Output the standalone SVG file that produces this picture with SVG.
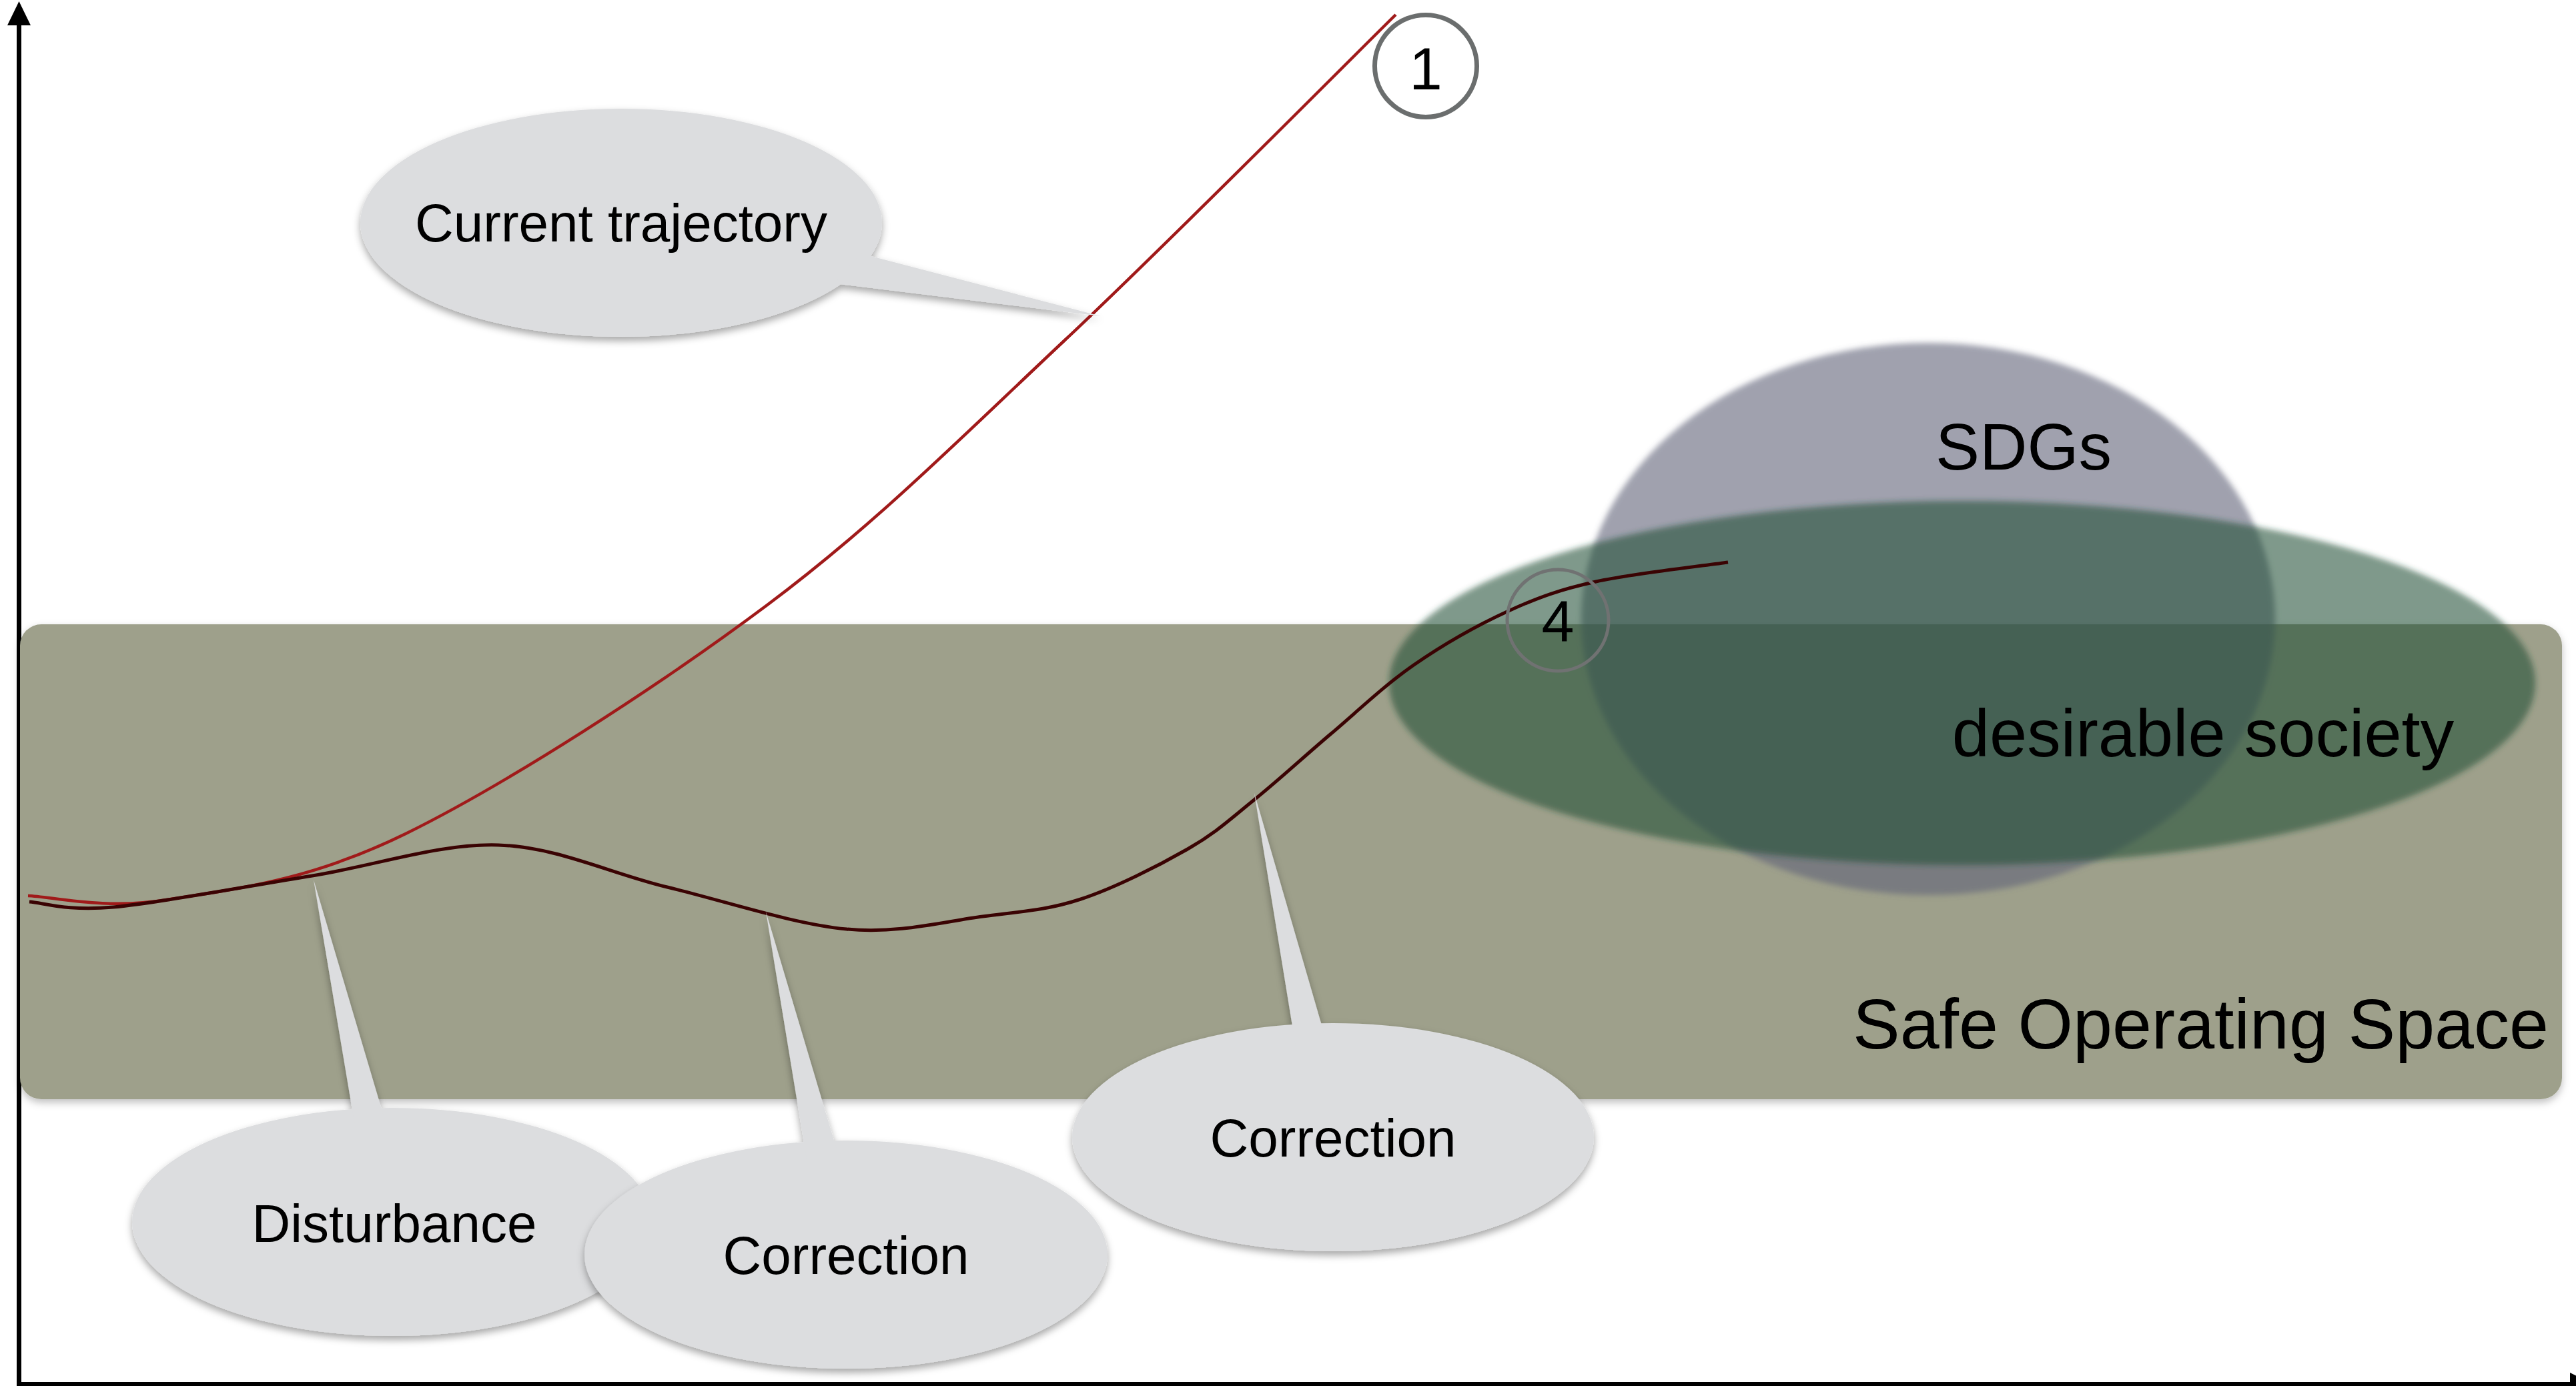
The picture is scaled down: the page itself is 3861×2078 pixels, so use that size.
<svg xmlns="http://www.w3.org/2000/svg" width="3861" height="2078" viewBox="0 0 3861 2078">
<style>
  .lbl { font-family: "Liberation Sans", Arial, sans-serif; fill: #000; }
  .bub { fill: #dcdddf; }
  .axis { stroke: #000; stroke-width: 7; fill: none; }
</style>
<defs>
  <filter id="shadow" x="-20%" y="-20%" width="140%" height="150%">
    <feDropShadow dx="0" dy="6" stdDeviation="6" flood-color="#000" flood-opacity="0.35"/>
  </filter>
  <filter id="rshadow" x="-5%" y="-10%" width="110%" height="125%">
    <feDropShadow dx="0" dy="5" stdDeviation="6" flood-color="#000" flood-opacity="0.25"/>
  </filter>
  <filter id="soft" x="-10%" y="-10%" width="120%" height="120%">
    <feGaussianBlur stdDeviation="4"/>
  </filter>
</defs>
<rect width="3861" height="2078" fill="#fff"/>

<g id="axes">
  <line class="axis" x1="28.5" y1="2078" x2="28.5" y2="30"/>
  <polygon points="28.5,2 11,38 46,38" fill="#000"/>
  <line class="axis" x1="25" y1="2075.5" x2="3860" y2="2075.5"/>
  <polygon points="3852,2058 3887,2075.5 3852,2093" fill="#000"/>
</g>

<g id="safe-operating-space">
  <rect x="30" y="936" width="3810" height="712" rx="32" fill="#9ea08b" filter="url(#rshadow)"/>
  <text class="lbl" x="3820" y="1572" font-size="106" text-anchor="end">Safe Operating Space</text>
</g>

<g id="sdgs">
  <ellipse cx="2890" cy="928" rx="520" ry="414" fill="#616478" fill-opacity="0.6" filter="url(#soft)"/>
</g>
<g id="desirable-society">
  <ellipse cx="2941" cy="1024" rx="859" ry="273" fill="#1f4f33" fill-opacity="0.573" filter="url(#soft)"/>
</g>
<text class="lbl" x="3033" y="704" font-size="99" text-anchor="middle">SDGs</text>
<text class="lbl" x="3302" y="1134" font-size="101" text-anchor="middle">desirable society</text>

<g id="connectors">
  <path id="current-trajectory-curve" fill="none" stroke="#a01a1a" stroke-width="4.5"
    d="M42,1343 C76.7,1344 155.7,1364.5 250,1349 C344.3,1333.5 458,1323.7 608,1250 C758,1176.3 985.3,1030.3 1150,907 C1314.7,783.7 1439,657.5 1596,510 C1753,362.5 2009.3,103.3 2092,22"/>
  <path id="corrected-trajectory-curve" fill="none" stroke="#3a0303" stroke-width="5"
    d="M44,1352 C65,1353.3 99.3,1366.5 170,1360 C240.7,1353.5 371.8,1328.5 468,1313 C564.2,1297.5 658.3,1264.2 747,1267 C835.7,1269.8 913,1309 1000,1330 C1087,1351 1190.2,1385.7 1269,1393 C1347.8,1400.3 1414.5,1381.5 1473,1374 C1531.5,1366.5 1568.8,1364.8 1620,1348 C1671.2,1331.2 1736.7,1297.8 1780,1273 C1823.3,1248.2 1844.2,1227.8 1880,1199 C1915.8,1170.2 1955.2,1133.7 1995,1100 C2034.8,1066.3 2074.7,1027.7 2119,997 C2163.3,966.3 2215.5,936.8 2261,916 C2306.5,895.2 2337.2,884.2 2392,872 C2446.8,859.8 2557,847.8 2590,843"/>
</g>

<g id="marker-1">
  <circle cx="2137" cy="99" r="76.5" fill="none" stroke="#6b6e6e" stroke-width="7"/>
  <text class="lbl" x="2137" y="134" font-size="89" text-anchor="middle">1</text>
</g>
<g id="marker-4">
  <circle cx="2335" cy="930" r="76" fill="none" stroke="#707272" stroke-width="5"/>
  <text class="lbl" x="2335" y="962" font-size="88" text-anchor="middle">4</text>
</g>

<g id="bubble-current-trajectory" filter="url(#shadow)">
  <ellipse class="bub" cx="931" cy="334" rx="391" ry="171"/>
  <polygon class="bub" points="1290,380 1650,474 1250,425"/>
  <text class="lbl" x="931" y="362" font-size="80" text-anchor="middle">Current trajectory</text>
</g>

<g id="bubble-disturbance" filter="url(#shadow)">
  <ellipse class="bub" cx="588" cy="1832" rx="390" ry="171"/>
  <polygon class="bub" points="470,1319 583,1700 534,1700"/>
  <text class="lbl" x="591" y="1862" font-size="80" text-anchor="middle">Disturbance</text>
</g>

<g id="bubble-correction-1" filter="url(#shadow)">
  <ellipse class="bub" cx="1268" cy="1881" rx="392" ry="171"/>
  <polygon class="bub" points="1148,1367 1262,1750 1211,1750"/>
  <text class="lbl" x="1268" y="1910" font-size="80" text-anchor="middle">Correction</text>
</g>

<g id="bubble-correction-2" filter="url(#shadow)">
  <ellipse class="bub" cx="1998" cy="1705" rx="391" ry="171"/>
  <polygon class="bub" points="1880,1189 1992,1575 1943,1575"/>
  <text class="lbl" x="1998" y="1734" font-size="80" text-anchor="middle">Correction</text>
</g>
</svg>
